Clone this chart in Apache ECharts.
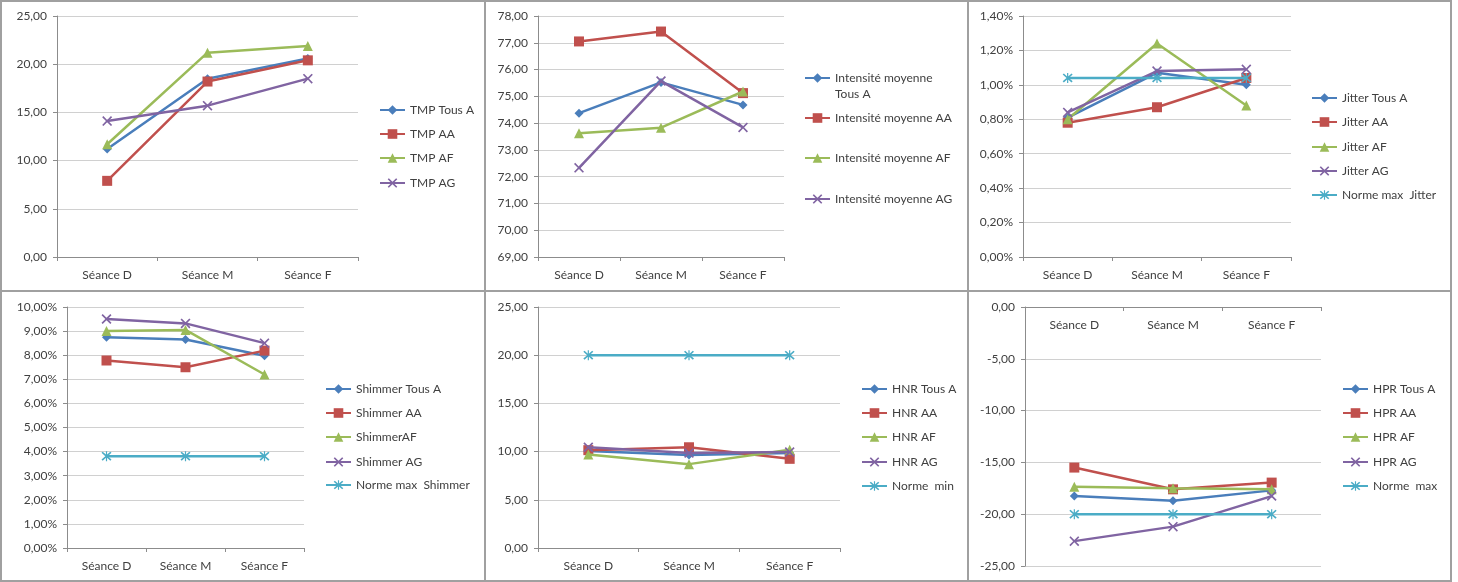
<!DOCTYPE html>
<html>
<head>
<meta charset="utf-8">
<script src="https://cdn.jsdelivr.net/npm/echarts@6/dist/echarts.min.js"></script>
<style>
html,body{margin:0;padding:0;background:#fff;}
#c{width:1458px;height:582px;}
</style>
</head>
<body>
<div id="c"></div>
<script>
// ---- Data ----
const categories = ['Séance D', 'Séance M', 'Séance F'];

const tmpTousA = [11.2, 18.5, 20.6];
const tmpAA = [7.9, 18.2, 20.4];
const tmpAF = [11.7, 21.2, 21.9];
const tmpAG = [14.1, 15.7, 18.5];

const intTousA = [74.37, 75.52, 74.68];
const intAA = [77.05, 77.42, 75.12];
const intAF = [73.62, 73.83, 75.18];
const intAG = [72.33, 75.57, 73.84];

const jitTousA = [0.81, 1.07, 1.00];
const jitAA = [0.78, 0.87, 1.04];
const jitAF = [0.80, 1.24, 0.88];
const jitAG = [0.84, 1.08, 1.09];
const jitNorme = [1.04, 1.04, 1.04];

const shimTousA = [8.74, 8.65, 7.98];
const shimAA = [7.78, 7.50, 8.19];
const shimAF = [9.00, 9.05, 7.20];
const shimAG = [9.50, 9.32, 8.50];
const shimNorme = [3.81, 3.81, 3.81];

const hnrTousA = [10.05, 9.65, 9.85];
const hnrAA = [10.15, 10.45, 9.25];
const hnrAF = [9.70, 8.70, 10.20];
const hnrAG = [10.45, 9.85, 9.95];
const hnrNorme = [20, 20, 20];

const hprTousA = [-18.25, -18.70, -17.70];
const hprAA = [-15.50, -17.60, -16.95];
const hprAF = [-17.35, -17.50, -17.60];
const hprAG = [-22.60, -21.20, -18.25];
const hprNorme = [-20, -20, -20];

// ---- Styles ----
const FONT = 'Lato';
const TXT = '#404040';
const COLORS = {blue:'#4A7EBB', red:'#C0504D', green:'#9BBB59', purple:'#8064A2', cyan:'#4BACC6'};
const X_PATH = 'path://M0,1.2 L1.2,0 L5,3.8 L8.8,0 L10,1.2 L6.2,5 L10,8.8 L8.8,10 L5,6.2 L1.2,10 L0,8.8 L3.8,5 Z';
const STAR_PATH = 'path://M0,1.2 L1.2,0 L5,3.8 L8.8,0 L10,1.2 L6.2,5 L10,8.8 L8.8,10 L5,6.2 L1.2,10 L0,8.8 L3.8,5 Z M4.4,-0.6 L5.6,-0.6 L5.6,10.6 L4.4,10.6 Z';
const MARK = {
  tous: {symbol:'diamond', size:9, color:COLORS.blue},
  aa: {symbol:'rect', size:10, color:COLORS.red},
  af: {symbol:'triangle', size:10, color:COLORS.green},
  ag: {symbol:X_PATH, size:10, color:COLORS.purple},
  norme: {symbol:STAR_PATH, size:10, color:COLORS.cyan}
};

const fmtNum = v => v.toFixed(2).replace('.', ',');
const fmtPct = v => v.toFixed(2).replace('.', ',') + '%';

const option = {
  animation: false,
  backgroundColor: '#fff',
  textStyle: {fontFamily: FONT},
  grid: [], xAxis: [], yAxis: [], series: [], legend: [],
  graphic: [
    {type:'rect', shape:{x:1, y:1, width:1450, height:580}, style:{fill:'none', stroke:'#a0a0a0', lineWidth:2}, silent:true},
    {type:'line', shape:{x1:485, y1:0, x2:485, y2:582}, style:{stroke:'#a0a0a0', lineWidth:2}, silent:true},
    {type:'line', shape:{x1:968, y1:0, x2:968, y2:582}, style:{stroke:'#a0a0a0', lineWidth:2}, silent:true},
    {type:'line', shape:{x1:0, y1:291, x2:1452, y2:291}, style:{stroke:'#a0a0a0', lineWidth:2}, silent:true}
  ]
};

function addPanel(grid, yCfg, items, legend, xTop) {
  const idx = option.grid.length;
  option.grid.push(Object.assign({containLabel:false}, grid));
  option.xAxis.push({
    type:'category', gridIndex:idx, data:categories, boundaryGap:true,
    position: xTop ? 'top' : 'bottom',
    axisLine:{show:true, onZero:false, lineStyle:{color:'#8c8c8c', width:1}},
    axisTick:{show:true, length:4, inside: !!xTop, lineStyle:{color:'#8c8c8c'}},
    axisLabel:{color:TXT, fontFamily:FONT, fontSize:12, margin:12, inside: !!xTop},
    splitLine:{show:false}
  });
  option.yAxis.push({
    type:'value', gridIndex:idx, min:yCfg.min, max:yCfg.max, interval:yCfg.interval,
    axisLine:{show:true, lineStyle:{color:'#8c8c8c', width:1}},
    axisTick:{show:true, length:4, lineStyle:{color:'#8c8c8c'}},
    axisLabel:{color:TXT, fontFamily:FONT, fontSize:12, margin:10, formatter:yCfg.fmt},
    splitLine:{show:true, lineStyle:{color:'#d0d0d0', width:1}}
  });
  items.forEach((it, k) => {
    const m = MARK[it.kind];
    option.series.push({
      type:'line', name:it.name, xAxisIndex:idx, yAxisIndex:idx, data:it.data,
      symbol:m.symbol, symbolSize:m.size, showAllSymbol:true,
      lineStyle:{color:m.color, width:2.5},
      itemStyle:{color:m.color},
      emphasis:{disabled:true}, z:2+k
    });
    const cy = legend.ys[k];
    const lines = it.label ? it.label.split('\n').length : 1;
    option.legend.push({
      data:[it.name], left:legend.x, top: cy - (lines*16)/2, orient:'vertical',
      padding:0, itemGap:0, itemWidth:25, itemHeight:12,
      selectedMode:false,
      formatter: it.label ? (() => it.label) : undefined,
      textStyle:{color:TXT, fontFamily:FONT, fontSize:12, lineHeight:16}
    });
  });
}

// Panel 1: TMP
addPanel({left:57, top:16, width:301, height:241},
  {min:0, max:25, interval:5, fmt:fmtNum},
  [{name:'TMP Tous A', kind:'tous', data:tmpTousA},
   {name:'TMP AA', kind:'aa', data:tmpAA},
   {name:'TMP AF', kind:'af', data:tmpAF},
   {name:'TMP AG', kind:'ag', data:tmpAG}],
  {x:379, ys:[110, 134, 158, 183]});

// Panel 2: Intensité
addPanel({left:538, top:16, width:246, height:241},
  {min:69, max:78, interval:1, fmt:fmtNum},
  [{name:'Intensité moyenne Tous A', kind:'tous', data:intTousA, label:'\u00a0\nIntensité moyenne\nTous A'},
   {name:'Intensité moyenne AA', kind:'aa', data:intAA},
   {name:'Intensité moyenne AF', kind:'af', data:intAF},
   {name:'Intensité moyenne AG', kind:'ag', data:intAG}],
  {x:804, ys:[78, 118, 158, 199]});

// Panel 3: Jitter
addPanel({left:1023, top:16, width:268, height:241},
  {min:0, max:1.4, interval:0.2, fmt:fmtPct},
  [{name:'Jitter Tous A', kind:'tous', data:jitTousA},
   {name:'Jitter AA', kind:'aa', data:jitAA},
   {name:'Jitter AF', kind:'af', data:jitAF},
   {name:'Jitter AG', kind:'ag', data:jitAG},
   {name:'Norme max  Jitter', kind:'norme', data:jitNorme}],
  {x:1311, ys:[98, 122, 147, 171, 195]});

// Panel 4: Shimmer
addPanel({left:67, top:307, width:237, height:241},
  {min:0, max:10, interval:1, fmt:fmtPct},
  [{name:'Shimmer Tous A', kind:'tous', data:shimTousA},
   {name:'Shimmer AA', kind:'aa', data:shimAA},
   {name:'ShimmerAF', kind:'af', data:shimAF},
   {name:'Shimmer AG', kind:'ag', data:shimAG},
   {name:'Norme max  Shimmer', kind:'norme', data:shimNorme}],
  {x:325, ys:[389, 413, 437, 462, 485]});

// Panel 5: HNR
addPanel({left:538, top:307, width:302, height:241},
  {min:0, max:25, interval:5, fmt:fmtNum},
  [{name:'HNR Tous A', kind:'tous', data:hnrTousA},
   {name:'HNR AA', kind:'aa', data:hnrAA},
   {name:'HNR AF', kind:'af', data:hnrAF},
   {name:'HNR AG', kind:'ag', data:hnrAG},
   {name:'Norme  min', kind:'norme', data:hnrNorme}],
  {x:861, ys:[389, 413, 437, 462, 486]});

// Panel 6: HPR (category axis at the top, value 0)
addPanel({left:1025, top:307, width:296, height:259},
  {min:-25, max:0, interval:5, fmt:fmtNum},
  [{name:'HPR Tous A', kind:'tous', data:hprTousA},
   {name:'HPR AA', kind:'aa', data:hprAA},
   {name:'HPR AF', kind:'af', data:hprAF},
   {name:'HPR AG', kind:'ag', data:hprAG},
   {name:'Norme  max', kind:'norme', data:hprNorme}],
  {x:1342, ys:[389, 413, 437, 462, 486]}, true);

const chart = echarts.init(document.getElementById('c'), null, {renderer:'canvas'});
chart.setOption(option);
</script>
</body>
</html>
